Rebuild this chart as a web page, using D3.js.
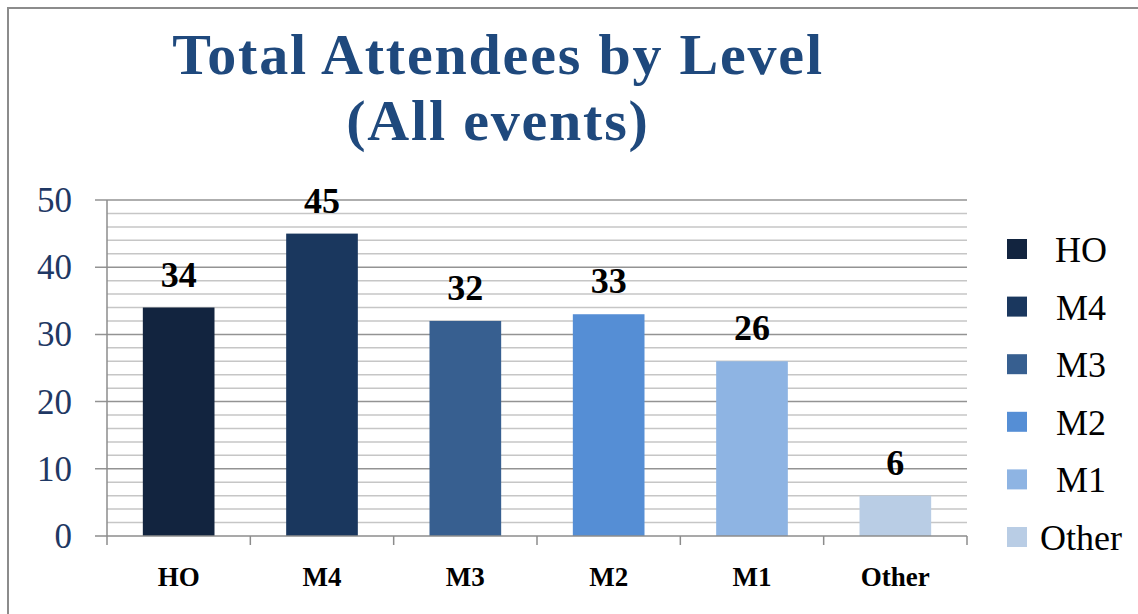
<!DOCTYPE html>
<html>
<head>
<meta charset="utf-8">
<script src="https://cdn.jsdelivr.net/npm/d3@7"></script>
<style>
  html, body { margin: 0; padding: 0; background: #ffffff; }
  svg { display: block; }
</style>
</head>
<body>
<svg id="chart" width="1138" height="614"></svg>
<script>
// ---- data ----
const categories = ["HO", "M4", "M3", "M2", "M1", "Other"];
const values = [34, 45, 32, 33, 26, 6];
const colors = ["#12243F", "#1A375E", "#375F90", "#558ED5", "#8EB4E3", "#B9CDE5"];
const yTicks = [0, 10, 20, 30, 40, 50];
const titleLines = ["Total Attendees by Level", "(All events)"];

const svg = d3.select("#chart");
const serif = "'Liberation Serif', 'Times New Roman', serif";

// frame
svg.append("rect")
  .attr("x", 8).attr("y", 8).attr("width", 1300).attr("height", 800)
  .attr("fill", "none").attr("stroke", "#8c8c8c").attr("stroke-width", 2);

// scales
const x = d3.scaleBand().domain(categories).range([107, 967])
  .paddingInner(0.5).paddingOuter(0.25);
const y = d3.scaleLinear().domain([0, 50]).range([536, 200]);

// minor gridlines
const minor = d3.range(2, 50, 2).filter(v => v % 10 !== 0);
svg.append("g").selectAll("line").data(minor).join("line")
  .attr("x1", 107).attr("x2", 967)
  .attr("y1", d => y(d)).attr("y2", d => y(d))
  .attr("stroke", "#c6c6c6").attr("stroke-width", 1.5);

// major gridlines with left ticks
svg.append("g").selectAll("line").data(yTicks.filter(d => d > 0)).join("line")
  .attr("x1", 95).attr("x2", 967)
  .attr("y1", d => y(d)).attr("y2", d => y(d))
  .attr("stroke", "#939393").attr("stroke-width", 1.5);

// y axis line
svg.append("line").attr("x1", 107).attr("x2", 107)
  .attr("y1", y(50)).attr("y2", y(0))
  .attr("stroke", "#8c8c8c").attr("stroke-width", 1.5);

// bars
svg.append("g").selectAll("rect").data(categories).join("rect")
  .attr("x", d => x(d))
  .attr("y", (d, i) => y(values[i]))
  .attr("width", x.bandwidth())
  .attr("height", (d, i) => y(0) - y(values[i]))
  .attr("fill", (d, i) => colors[i]);

// x axis line + ticks at category boundaries
svg.append("line").attr("x1", 95).attr("x2", 967)
  .attr("y1", y(0)).attr("y2", y(0))
  .attr("stroke", "#8c8c8c").attr("stroke-width", 1.5);
const bounds = categories.map(c => x(c) - x.step() * x.paddingInner() / 2 - 0)
  .map((v, i) => 107 + i * x.step()).concat([967]);
svg.append("g").selectAll("line").data(bounds).join("line")
  .attr("x1", d => d).attr("x2", d => d)
  .attr("y1", y(0)).attr("y2", y(0) + 9)
  .attr("stroke", "#8c8c8c").attr("stroke-width", 1.5);

// y tick labels
svg.append("g").selectAll("text").data(yTicks).join("text")
  .attr("x", 72).attr("y", d => y(d) + 12)
  .attr("text-anchor", "end")
  .attr("font-family", serif).attr("font-size", 35)
  .attr("fill", "#1F3864")
  .text(d => d);

// x labels
svg.append("g").selectAll("text").data(categories).join("text")
  .attr("x", d => x(d) + x.bandwidth() / 2).attr("y", 586)
  .attr("text-anchor", "middle")
  .attr("font-family", serif).attr("font-size", 27).attr("font-weight", "bold")
  .attr("fill", "#000")
  .text(d => d);

// data labels
svg.append("g").selectAll("text").data(categories).join("text")
  .attr("x", d => x(d) + x.bandwidth() / 2)
  .attr("y", (d, i) => y(values[i]) - 21)
  .attr("text-anchor", "middle")
  .attr("font-family", serif).attr("font-size", 36).attr("font-weight", "bold")
  .attr("fill", "#000")
  .text((d, i) => values[i]);

// title
svg.append("g").selectAll("text").data(titleLines).join("text")
  .attr("x", 498).attr("y", (d, i) => 74 + i * 66)
  .attr("text-anchor", "middle")
  .attr("font-family", serif).attr("font-size", 58).attr("font-weight", "bold")
  .attr("letter-spacing", "1.8px")
  .attr("fill", "#1F497D")
  .text(d => d);

// legend
const leg = svg.append("g").selectAll("g").data(categories).join("g")
  .attr("transform", (d, i) => `translate(0, ${249 + i * 57.6})`);
leg.append("rect")
  .attr("x", 1007).attr("y", -10).attr("width", 20).attr("height", 20)
  .attr("fill", (d, i) => colors[i]);
leg.append("text")
  .attr("x", 1081).attr("y", 13)
  .attr("text-anchor", "middle")
  .attr("font-family", serif).attr("font-size", 36)
  .attr("fill", "#000")
  .text(d => d);
</script>
</body>
</html>
